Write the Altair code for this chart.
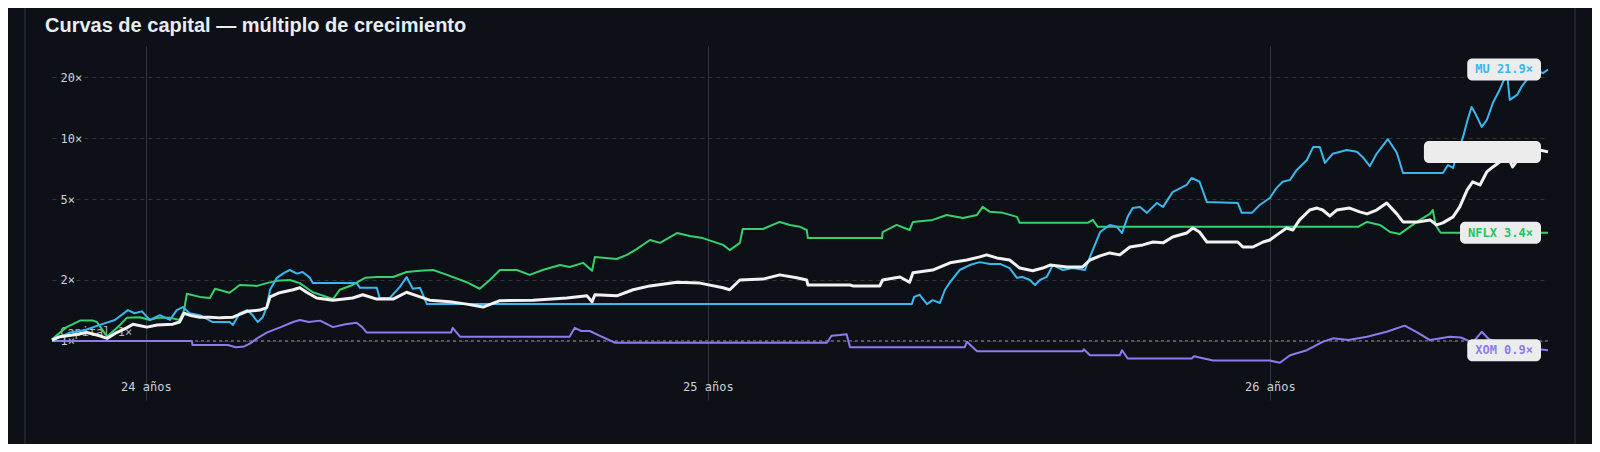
import altair as alt
import pandas as pd

TITLE = "Curvas de capital — múltiplo de crecimiento"

# edad en años (eje x) y múltiplo del capital inicial (eje y, log)
XOM_T = [23.833, 24.082, 24.083, 24.146, 24.160, 24.175, 24.185, 24.198, 24.215, 24.240,
         24.262, 24.274, 24.290, 24.310, 24.333, 24.355, 24.375, 24.385, 24.393, 24.543,
         24.546, 24.559, 24.754, 24.763, 24.775, 24.790, 24.808, 24.835, 25.212, 25.220,
         25.235, 25.247, 25.253, 25.457, 25.461, 25.479, 25.667, 25.669, 25.680, 25.733,
         25.737, 25.747, 25.861, 25.865, 25.899, 26.000, 26.018, 26.036, 26.066, 26.094,
         26.112, 26.140, 26.173, 26.208, 26.240, 26.263, 26.285, 26.320, 26.340, 26.361,
         26.377, 26.390, 26.420, 26.450, 26.495]
XOM_V = [1.00, 1.00, 0.955, 0.955, 0.93, 0.94, 0.97, 1.03, 1.10, 1.17,
         1.24, 1.27, 1.24, 1.26, 1.17, 1.21, 1.23, 1.17, 1.10, 1.10,
         1.16, 1.05, 1.05, 1.16, 1.12, 1.12, 1.06, 0.98, 0.98, 1.06,
         1.07, 1.08, 0.93, 0.93, 0.99, 0.89, 0.89, 0.91, 0.85, 0.85,
         0.90, 0.82, 0.82, 0.84, 0.80, 0.80, 0.78, 0.85, 0.90, 0.99,
         1.03, 1.01, 1.05, 1.11, 1.19, 1.10, 1.01, 1.05, 1.04, 0.98,
         1.11, 1.02, 0.96, 0.93, 0.90]

NFLX_T = [23.833, 23.859, 23.883, 23.906, 23.913, 23.931, 23.954, 23.966, 23.989, 24.007,
          24.020, 24.043, 24.060, 24.068, 24.073, 24.096, 24.114, 24.123, 24.149, 24.167,
          24.198, 24.215, 24.233, 24.256, 24.274, 24.297, 24.333, 24.345, 24.368, 24.390,
          24.411, 24.440, 24.464, 24.488, 24.511, 24.536, 24.571, 24.594, 24.612, 24.630,
          24.660, 24.683, 24.706, 24.737, 24.754, 24.778, 24.794, 24.799, 24.838, 24.856,
          24.874, 24.897, 24.915, 24.945, 24.968, 24.991, 25.027, 25.039, 25.057, 25.062,
          25.098, 25.128, 25.146, 25.164, 25.176, 25.178, 25.310, 25.311, 25.336, 25.359,
          25.365, 25.400, 25.425, 25.454, 25.479, 25.489, 25.502, 25.525, 25.550, 25.555,
          25.676, 25.685, 25.694, 26.157, 26.173, 26.196, 26.214, 26.231, 26.249, 26.267,
          26.285, 26.290, 26.295, 26.304, 26.495]
NFLX_V = [1.02, 1.17, 1.26, 1.26, 1.24, 1.05, 1.20, 1.30, 1.31, 1.27,
          1.30, 1.30, 1.27, 1.42, 1.71, 1.65, 1.63, 1.81, 1.73, 1.89,
          1.87, 1.93, 1.98, 2.00, 1.93, 1.74, 1.61, 1.79, 1.89, 2.05,
          2.07, 2.07, 2.19, 2.22, 2.24, 2.12, 1.95, 1.81, 2.00, 2.24,
          2.24, 2.12, 2.24, 2.37, 2.32, 2.43, 2.22, 2.60, 2.54, 2.66,
          2.85, 3.15, 3.05, 3.41, 3.30, 3.22, 2.98, 2.81, 3.05, 3.57,
          3.57, 3.87, 3.74, 3.66, 3.53, 3.22, 3.22, 3.45, 3.74, 3.53,
          3.87, 3.96, 4.19, 4.05, 4.19, 4.59, 4.34, 4.29, 4.10, 3.83,
          3.83, 3.96, 3.66, 3.66, 3.87, 3.74, 3.45, 3.37, 3.66, 3.96,
          4.24, 4.43, 3.74, 3.42, 3.42]

MU_T = [23.833, 23.865, 23.891, 23.918, 23.945, 23.968, 23.980, 23.993, 24.007, 24.025,
        24.043, 24.055, 24.066, 24.078, 24.096, 24.119, 24.149, 24.155, 24.167, 24.180,
        24.190, 24.199, 24.208, 24.215, 24.221, 24.233, 24.246, 24.256, 24.269, 24.279,
        24.292, 24.297, 24.375, 24.381, 24.411, 24.416, 24.434, 24.452, 24.464, 24.475,
        24.488, 24.500, 25.363, 25.367, 25.377, 25.390, 25.400, 25.413, 25.422, 25.431,
        25.448, 25.466, 25.484, 25.502, 25.520, 25.537, 25.550, 25.560, 25.573, 25.582,
        25.591, 25.603, 25.614, 25.632, 25.649, 25.671, 25.680, 25.698, 25.715, 25.728,
        25.737, 25.747, 25.756, 25.769, 25.781, 25.799, 25.810, 25.827, 25.852, 25.861,
        25.875, 25.888, 25.943, 25.950, 25.968, 25.982, 26.000, 26.012, 26.023, 26.036,
        26.048, 26.066, 26.077, 26.089, 26.098, 26.112, 26.137, 26.155, 26.165, 26.178,
        26.190, 26.210, 26.226, 26.237, 26.308, 26.317, 26.326, 26.333, 26.344, 26.351,
        26.359, 26.365, 26.377, 26.386, 26.397, 26.409, 26.422, 26.427, 26.440, 26.448,
        26.463, 26.475, 26.486, 26.495]
MU_V = [1.01, 1.10, 1.13, 1.20, 1.27, 1.42, 1.37, 1.40, 1.27, 1.34,
        1.27, 1.42, 1.47, 1.37, 1.34, 1.24, 1.24, 1.20, 1.37, 1.42,
        1.34, 1.24, 1.31, 1.47, 1.79, 2.05, 2.17, 2.24, 2.15, 2.19,
        2.05, 1.93, 1.93, 1.83, 1.83, 1.63, 1.63, 1.85, 2.07, 1.81,
        1.83, 1.52, 1.52, 1.65, 1.69, 1.52, 1.59, 1.54, 1.79, 1.95,
        2.24, 2.37, 2.45, 2.40, 2.40, 2.29, 2.05, 2.07, 2.00, 1.89,
        2.00, 2.07, 2.37, 2.24, 2.29, 2.24, 2.60, 3.45, 3.74, 3.66,
        3.41, 4.10, 4.53, 4.59, 4.29, 4.80, 4.59, 5.43, 5.89, 6.38,
        6.11, 4.85, 4.80, 4.29, 4.29, 4.69, 5.08, 5.70, 6.11, 6.24,
        6.99, 7.82, 9.06, 9.06, 7.57, 8.40, 8.77, 8.59, 8.10, 7.30,
        8.40, 9.93, 8.49, 6.75, 6.75, 7.39, 7.15, 8.30, 10.2, 12.1,
        14.3, 13.4, 11.4, 12.3, 15.0, 17.4, 21.0, 15.5, 16.4, 18.0,
        20.5, 21.7, 21.0, 21.9]

CARTERA_T = [23.833, 23.847, 23.870, 23.895, 23.918, 23.931, 23.948, 23.966, 23.977, 24.002,
             24.020, 24.048, 24.060, 24.068, 24.078, 24.096, 24.114, 24.132, 24.155, 24.180,
             24.203, 24.215, 24.221, 24.238, 24.262, 24.274, 24.286, 24.304, 24.333, 24.368,
             24.386, 24.411, 24.440, 24.464, 24.488, 24.505, 24.541, 24.571, 24.600, 24.630,
             24.689, 24.749, 24.785, 24.794, 24.799, 24.838, 24.867, 24.897, 24.945, 24.986,
             25.027, 25.039, 25.057, 25.098, 25.128, 25.158, 25.176, 25.178, 25.253, 25.258,
             25.306, 25.311, 25.342, 25.359, 25.365, 25.400, 25.431, 25.461, 25.484, 25.496,
             25.514, 25.537, 25.555, 25.578, 25.596, 25.609, 25.639, 25.667, 25.680, 25.698,
             25.715, 25.733, 25.751, 25.774, 25.792, 25.810, 25.827, 25.852, 25.863, 25.875,
             25.888, 25.943, 25.952, 25.970, 25.988, 26.000, 26.012, 26.030, 26.041, 26.053,
             26.071, 26.084, 26.094, 26.107, 26.119, 26.142, 26.160, 26.173, 26.190, 26.208,
             26.226, 26.237, 26.263, 26.285, 26.297, 26.308, 26.326, 26.338, 26.351, 26.361,
             26.374, 26.386, 26.397, 26.409, 26.422, 26.432, 26.445, 26.463, 26.480, 26.495]
CARTERA_V = [1.01, 1.05, 1.07, 1.10, 1.06, 1.03, 1.10, 1.16, 1.21, 1.17,
             1.20, 1.21, 1.24, 1.37, 1.34, 1.31, 1.31, 1.30, 1.31, 1.40,
             1.42, 1.46, 1.65, 1.73, 1.79, 1.83, 1.74, 1.63, 1.59, 1.63,
             1.69, 1.61, 1.61, 1.74, 1.65, 1.59, 1.56, 1.52, 1.47, 1.58,
             1.59, 1.63, 1.67, 1.56, 1.69, 1.67, 1.79, 1.87, 1.95, 1.93,
             1.83, 1.79, 2.00, 2.02, 2.12, 2.05, 2.00, 1.89, 1.89, 1.87,
             1.87, 2.00, 2.07, 1.95, 2.17, 2.24, 2.43, 2.51, 2.60, 2.66,
             2.57, 2.51, 2.29, 2.22, 2.29, 2.37, 2.32, 2.32, 2.51, 2.63,
             2.72, 2.66, 2.91, 2.98, 3.08, 3.05, 3.26, 3.41, 3.61, 3.45,
             3.08, 3.08, 2.91, 2.91, 3.08, 3.15, 3.33, 3.61, 3.53, 3.96,
             4.43, 4.53, 4.43, 4.14, 4.43, 4.53, 4.34, 4.24, 4.43, 4.80,
             4.24, 3.87, 3.87, 3.96, 3.74, 3.83, 4.10, 4.59, 5.56, 6.11,
             5.89, 6.83, 7.23, 7.65, 8.30, 7.23, 8.10, 8.30, 8.77, 8.58]

# (etiqueta, t, v, color de línea, color de texto, grosor) en orden de dibujo
SERIES = [
    ("XOM", XOM_T, XOM_V, "#8a7cf0", "#8a7cf0", 2),
    ("NFLX", NFLX_T, NFLX_V, "#36d06c", "#22c55e", 2),
    ("MU", MU_T, MU_V, "#3ab7ef", "#38b6ee", 2),
    ("Portfolio", CARTERA_T, CARTERA_V, "#f2f2f2", "#ececec", 3),
]

Y_TICKS = [1, 2, 5, 10, 20]
X_TICKS = [24, 25, 26]

BG = "#0d1117"
GRID = "#30363d"
MUTED = "#c9d1d9"
BOX_FILL = "#ececec"
MONO = "DejaVu Sans Mono"
CHAR_W = 7.22
W, H = 1496, 354

x_scale = alt.Scale(domain=[23.833, 26.495], nice=False, zero=False)
y_scale = alt.Scale(type="log", domain=[0.511, 28.6], nice=False)

x_axis = alt.Axis(
    values=X_TICKS, labelExpr="datum.value + ' años'", title=None,
    grid=True, gridColor=GRID, gridWidth=1, ticks=False, tickSize=0, domain=False,
    labelPadding=-14, labelBaseline="middle", labelColor=MUTED,
    labelFont=MONO, labelFontSize=12)
y_axis = alt.Axis(
    values=Y_TICKS, labelExpr="datum.value + '×'", title=None,
    grid=True, gridColor=GRID, gridDash=[4, 4], gridWidth=1,
    ticks=False, tickSize=0, domain=False,
    labelAlign="left", labelPadding=-8, labelBaseline="middle", labelColor=MUTED,
    labelFont=MONO, labelFontSize=12)

X = alt.X("t:Q", scale=x_scale, axis=x_axis)
Y = alt.Y("v:Q", scale=y_scale, axis=y_axis)

one = pd.DataFrame({"titulo": [TITLE]})

layers = []

# bordes de la tarjeta
for px in [-27, W + 27]:
    layers.append(alt.Chart(one).mark_rule(color="#262c34", strokeWidth=1.5).encode(
        x=alt.value(px), y=alt.value(-40), y2=alt.value(H + 60)))

# línea de capital inicial
base_df = pd.DataFrame({"t": [XOM_T[0]], "v": [1.0], "txt": ["Capital 1×"]})
layers.append(alt.Chart(base_df).mark_rule(color="#8b949e", strokeDash=[3, 3], strokeWidth=1).encode(y=Y))
layers.append(alt.Chart(base_df).mark_text(
    align="left", baseline="alphabetic", dx=8, dy=-5, font=MONO, fontSize=12,
    color=MUTED, opacity=0.85).encode(x=X, y=Y, text="txt:N"))

for lab, ts, vs, color, tcolor, sw in SERIES:
    df = pd.DataFrame({"t": ts, "v": vs})
    layers.append(alt.Chart(df).mark_line(color=color, strokeWidth=sw, strokeJoin="round").encode(
        x=X, y=Y, order="t:Q"))

for lab, ts, vs, color, tcolor, sw in SERIES:
    txt = f"{lab} {vs[-1]:.1f}×"
    end = pd.DataFrame({"t": [ts[-1]], "v": [vs[-1]], "txt": [txt]})
    box_w = 16 + CHAR_W * len(txt)
    layers.append(alt.Chart(end).mark_rect(
        color=BOX_FILL, cornerRadius=5,
        xOffset=-(7 + box_w), x2Offset=-7, yOffset=-11, y2Offset=11).encode(
        x=X, x2=alt.X2("t:Q"), y=Y, y2=alt.Y2("v:Q")))
    layers.append(alt.Chart(end).mark_text(
        align="right", baseline="middle", dx=-15, font=MONO, fontSize=12,
        fontWeight="bold", color=tcolor).encode(x=X, y=Y, text="txt:N"))

layers.append(alt.Chart(one).mark_text(
    align="left", baseline="alphabetic", font="Liberation Sans", fontSize=20,
    fontWeight="bold", color="#e6edf3").encode(
    x=alt.value(-7), y=alt.value(-14), text="titulo:N"))

chart = alt.layer(*layers).properties(
    width=W, height=H,
    padding={"left": 44, "top": 38, "right": 44, "bottom": 44},
    autosize=alt.AutoSizeParams(type="none"),
).configure(background=BG).configure_view(stroke=None)

chart.save("out.html", embed_options={"renderer": "svg", "actions": False})
